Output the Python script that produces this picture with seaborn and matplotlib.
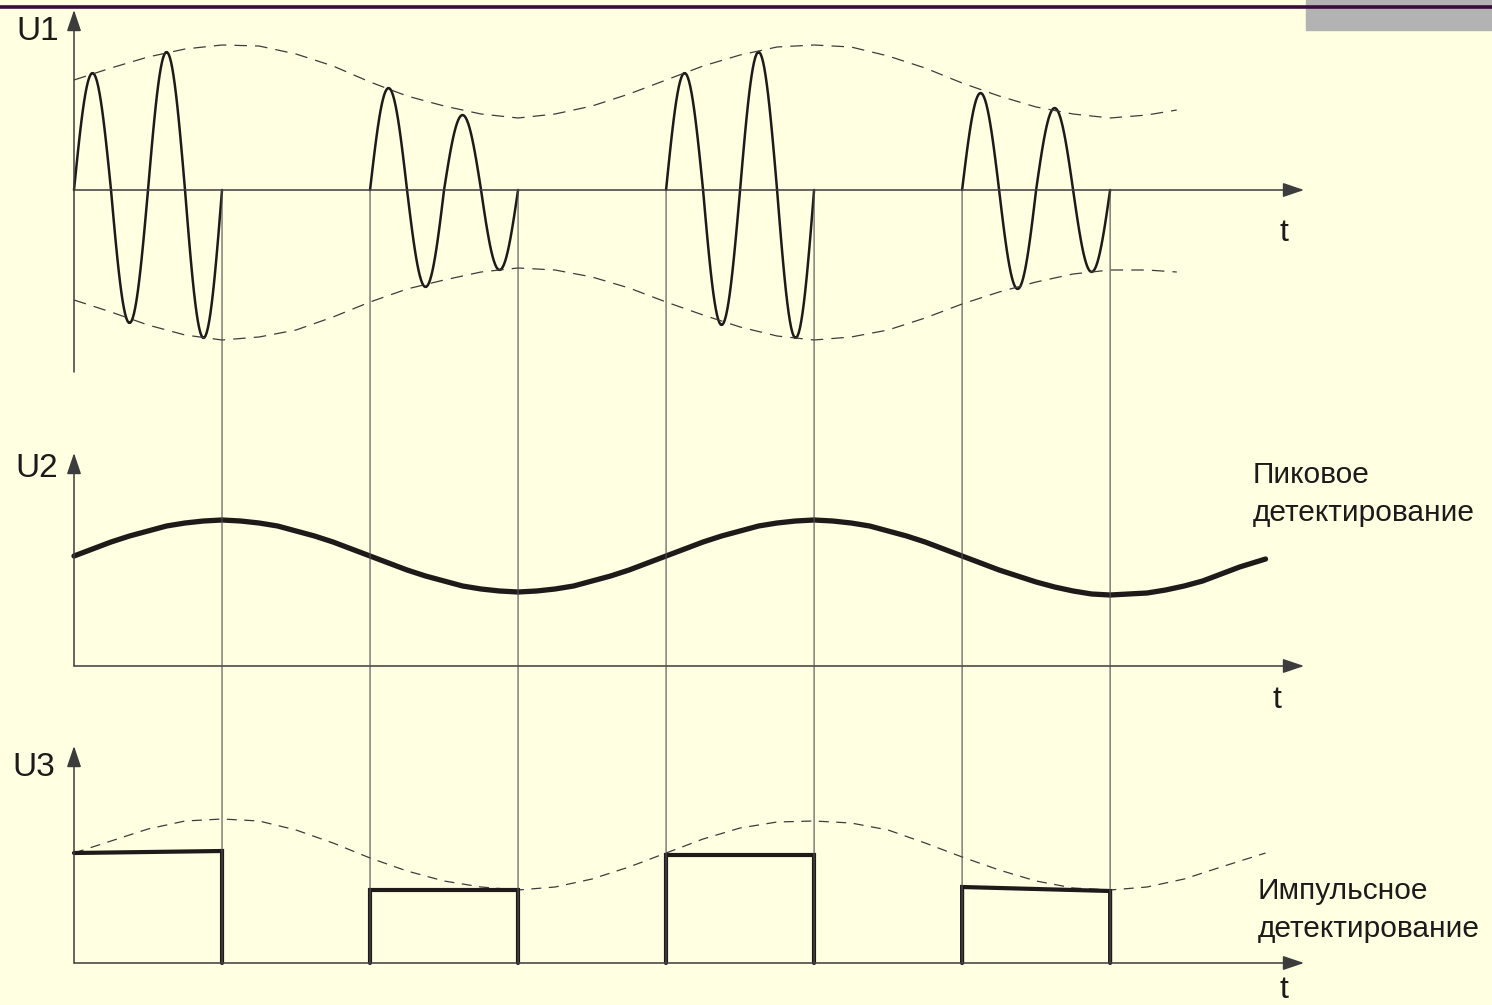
import numpy as np
import pandas as pd
import matplotlib.pyplot as plt
import seaborn as sns
from matplotlib.patches import ConnectionPatch, Rectangle
from matplotlib.lines import Line2D

# time in carrier periods, voltage in arbitrary units
burst_start = [0, 4, 8, 12]
burst_end = [2, 6, 10, 14]

# extremes of the carrier inside each burst: peak, trough, peak, trough
burst_peaks = [
    [1.17, -1.33, 1.38, -1.48],
    [1.02, -0.97, 0.75, -0.80],
    [1.17, -1.35, 1.38, -1.48],
    [0.97, -0.99, 0.82, -0.82],
]

# U1 envelope (dashed)
u1_env_t = [0, 0.5, 1, 1.5, 2, 2.5, 3, 3.5, 4, 4.5, 5, 5.5, 6, 6.5, 7, 7.5,
            8, 8.5, 9, 9.5, 10, 10.5, 11, 11.5, 12, 12.5, 13, 13.5, 14, 14.5, 14.9]
u1_upper = [1.10, 1.22, 1.33, 1.41, 1.45, 1.44, 1.36, 1.24, 1.08, 0.94, 0.84, 0.76,
            0.72, 0.76, 0.84, 0.96, 1.10, 1.24, 1.35, 1.43, 1.45, 1.43, 1.34, 1.22,
            1.07, 0.94, 0.83, 0.76, 0.72, 0.75, 0.80]
u1_lower = [-1.10, -1.22, -1.35, -1.45, -1.50, -1.47, -1.40, -1.27, -1.12, -0.99,
            -0.90, -0.82, -0.78, -0.80, -0.87, -0.98, -1.12, -1.25, -1.37, -1.46,
            -1.50, -1.47, -1.40, -1.28, -1.14, -1.02, -0.92, -0.84, -0.80, -0.80, -0.82]

# U2 peak detector output
u2_t = [0, 0.25, 0.5, 0.75, 1, 1.25, 1.5, 1.75, 2, 2.25, 2.5, 2.75, 3, 3.25, 3.5, 3.75,
        4, 4.25, 4.5, 4.75, 5, 5.25, 5.5, 5.75, 6, 6.25, 6.5, 6.75, 7, 7.25, 7.5, 7.75,
        8, 8.25, 8.5, 8.75, 9, 9.25, 9.5, 9.75, 10, 10.25, 10.5, 10.75, 11, 11.25, 11.5, 11.75,
        12, 12.25, 12.5, 12.75, 13, 13.25, 13.5, 13.75, 14, 14.25, 14.5, 14.75, 15, 15.25,
        15.5, 15.75, 16.1]
u2_val = [1.10, 1.17, 1.24, 1.30, 1.35, 1.40, 1.43, 1.45, 1.46, 1.45, 1.43, 1.40,
          1.35, 1.30, 1.24, 1.17, 1.10, 1.03, 0.96, 0.90, 0.85, 0.80, 0.77, 0.75,
          0.74, 0.75, 0.77, 0.80, 0.85, 0.90, 0.96, 1.03,
          1.10, 1.17, 1.24, 1.30, 1.35, 1.40, 1.43, 1.45, 1.46, 1.45, 1.43, 1.40,
          1.35, 1.30, 1.24, 1.17, 1.10, 1.03, 0.96, 0.90, 0.84, 0.79, 0.75, 0.72,
          0.71, 0.72, 0.73, 0.76, 0.80, 0.85, 0.92, 0.99, 1.07]

# U3 envelope (dashed) and pulse detector levels
u3_env_t = [0, 0.5, 1, 1.5, 2, 2.5, 3, 3.5, 4, 4.5, 5, 5.5, 6, 6.5, 7, 7.5,
            8, 8.5, 9, 9.5, 10, 10.5, 11, 11.5, 12, 12.5, 13, 13.5, 14, 14.5, 15, 15.5, 16.1]
u3_env = [1.10, 1.22, 1.34, 1.42, 1.44, 1.42, 1.33, 1.20, 1.05, 0.92, 0.82, 0.76,
          0.73, 0.76, 0.84, 0.96, 1.10, 1.24, 1.35, 1.41, 1.42, 1.40, 1.33, 1.20,
          1.06, 0.93, 0.82, 0.75, 0.73, 0.76, 0.84, 0.96, 1.10]
pulse_left = [1.10, 0.73, 1.08, 0.76]
pulse_right = [1.12, 0.73, 1.08, 0.72]

BG = '#FFFFE2'
INK = '#1e1a1a'
AXC = '#3c3c3c'

sns.set_theme(style='white')
plt.rcParams['font.family'] = ['Liberation Sans', 'DejaVu Sans']

fig = plt.figure(figsize=(14.92, 10.05), dpi=100, facecolor=BG)

# three overlaid axes, one per trace, each with its own zero level
ylims = [(-8.15, 1.90), (-3.39, 6.66), (-0.42, 9.63)]
axes = []
for lim in ylims:
    ax = fig.add_axes([0, 0, 1, 1])
    ax.set_xlim(-1.0, 19.16)
    ax.set_ylim(*lim)
    ax.axis('off')
    ax.patch.set_alpha(0)
    axes.append(ax)
ax1, ax2, ax3 = axes

# top band decoration
fig.patches.append(Rectangle((1306 / 1492, 1 - 30 / 1005), 186 / 1492, 30 / 1005,
                             transform=fig.transFigure, color='#B3B3B3', zorder=0))
fig.lines.append(Line2D([0, 1], [1 - 7.5 / 1005] * 2, transform=fig.transFigure,
                        color='#3d0b3b', lw=2.6))

arrow_kw = dict(arrowstyle='-|>,head_length=0.65,head_width=0.22', color=AXC,
                lw=1.1, shrinkA=0, shrinkB=0, mutation_scale=20)

def draw_axes(ax, ybottom, ytop, name, tpos, name_pos):
    ax.annotate('', xy=(0, ytop), xytext=(0, ybottom), arrowprops=arrow_kw)
    ax.annotate('', xy=(16.62, 0), xytext=(0, 0), arrowprops=arrow_kw)
    ax.text(*name_pos, name, fontsize=24, ha='center', va='center', color=INK)
    ax.text(*tpos, 't', fontsize=23, ha='center', va='center', color=INK)

draw_axes(ax1, -1.82, 1.80, 'U1', (16.35, -0.43), (-0.49, 1.58))
draw_axes(ax2, 0, 2.13, 'U2', (16.25, -0.34), (-0.51, 1.98))
draw_axes(ax3, 0, 2.17, 'U3', (16.35, -0.27), (-0.54, 1.96))

# U1: carrier bursts
rows = []
for b, (s, peaks) in enumerate(zip(burst_start, burst_peaks)):
    for k, p in enumerate(peaks):
        tt = np.linspace(0, 0.5, 30)
        for a in tt:
            rows.append((b, s + 0.5 * k + a, p * np.sin(np.pi * a / 0.5)))
carrier = pd.DataFrame(rows, columns=['burst', 't', 'u'])
sns.lineplot(data=carrier, x='t', y='u', units='burst', estimator=None, sort=False,
             color=INK, lw=1.8, ax=ax1)

dash1 = (0, (10, 6.5))
sns.lineplot(x=u1_env_t, y=u1_upper, sort=False, color=AXC, lw=0.9,
             linestyle=dash1, ax=ax1)
sns.lineplot(x=u1_env_t, y=u1_lower, sort=False, color=AXC, lw=0.9,
             linestyle=dash1, ax=ax1)

# U2: peak detector
sns.lineplot(x=u2_t, y=u2_val, sort=False, color=INK, lw=3.8, ax=ax2)
ax2.text(15.93, 1.72, 'Пиковое\nдетектирование', fontsize=21.5, ha='left',
         va='center', linespacing=1.42, color=INK)

# U3: pulse detector
sns.lineplot(x=u3_env_t, y=u3_env, sort=False, color=AXC, lw=0.9,
             linestyle=(0, (8, 6)), ax=ax3)
for s, e, l0, l1 in zip(burst_start, burst_end, pulse_left, pulse_right):
    xs = [s, s, e, e] if s > 0 else [s, e, e]
    ys = [0, l0, l1, 0] if s > 0 else [l0, l1, 0]
    ax3.plot(xs, ys, color=INK, lw=3.0, solid_joinstyle='miter')
ax3.text(15.99, 0.53, 'Импульсное\nдетектирование', fontsize=21.5, ha='left',
         va='center', linespacing=1.42, color=INK)

# thin guide lines linking the burst edges through all three traces
for t in burst_start[1:] + burst_end:
    con = ConnectionPatch(xyA=(t, 0), coordsA=ax1.transData, xyB=(t, 0),
                          coordsB=ax3.transData, color='#505050', lw=0.8)
    fig.add_artist(con)

fig.savefig('out.png', dpi=100, facecolor=BG)
